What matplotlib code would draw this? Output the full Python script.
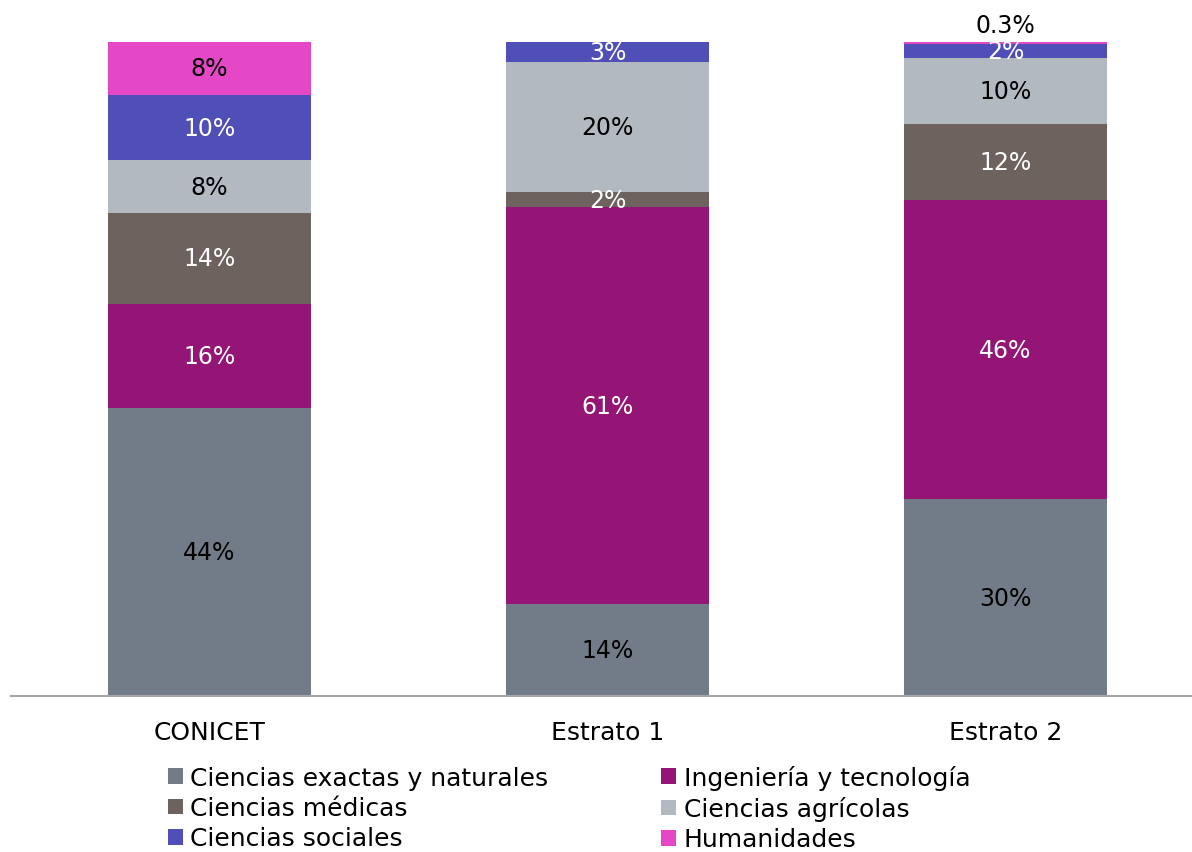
import numpy as np
import matplotlib
matplotlib.use("Agg")
import matplotlib.pyplot as plt
from matplotlib.patches import Patch

plt.rcParams['font.family'] = ['DejaVu Sans']

# data (share of each institution, %)
groups = ['CONICET', 'Estrato 1', 'Estrato 2']
areas = ['Ciencias exactas y naturales', 'Ingeniería y tecnología', 'Ciencias médicas',
         'Ciencias agrícolas', 'Ciencias sociales', 'Humanidades']
exactas = [44.0, 14.1, 30.1]
ingenieria = [16.0, 60.6, 45.7]
medicas = [13.9, 2.3, 11.7]
agricolas = [8.0, 19.9, 10.0]
sociales = [10.0, 3.1, 2.2]
humanidades = [8.1, 0.0, 0.3]

colors = ['#727c88', '#951577', '#6e625e', '#b3b9c1', '#4f4fb7', '#e548c6']
text_colors = ['black', 'white', 'white', 'black', 'white', 'black']
series = [exactas, ingenieria, medicas, agricolas, sociales, humanidades]

fig = plt.figure(figsize=(11.92, 8.53), dpi=100)
ax = fig.add_axes([10.5 / 1192, (853 - 697) / 853, 1194 / 1192, 654 / 853])

x = np.arange(len(groups))
bottom = np.zeros(len(groups))
for vals, col, tcol in zip(series, colors, text_colors):
    vals = np.array(vals)
    ax.bar(x, vals, bottom=bottom, width=0.51, color=col, clip_on=False)
    for xi, b, v in zip(x, bottom, vals):
        if v <= 0:
            continue
        if v < 1:
            # tiny segment: label sits above the bar
            ax.text(xi, b + v + 2.6, f"{v:.1f}%", ha='center', va='center',
                    fontsize=17, color='black')
        else:
            ax.text(xi, b + v / 2, f"{v:.0f}%", ha='center', va='center',
                    fontsize=17, color=tcol)
    bottom += vals

ax.set_xlim(-0.5, 2.5)
ax.set_ylim(0, 100)
ax.set_xticks(x)
ax.set_xticklabels(groups, fontsize=18)
ax.tick_params(axis='x', length=0, pad=17)
ax.set_yticks([])
for s in ['top', 'right', 'left']:
    ax.spines[s].set_visible(False)
ax.spines['bottom'].set_color('#a6a6a6')
ax.spines['bottom'].set_linewidth(1.5)

order = [0, 2, 4, 1, 3, 5]
handles = [Patch(facecolor=colors[i], label=areas[i]) for i in order]
fig.legend(handles=handles, ncol=2, loc='upper left', bbox_to_anchor=(158 / 1192, 1 - 756 / 853),
           frameon=False, fontsize=18, handlelength=0.6, handleheight=0.6,
           handletextpad=0.3, labelspacing=0.25, columnspacing=4.5, borderaxespad=0)

fig.savefig('out.png', dpi=100)
